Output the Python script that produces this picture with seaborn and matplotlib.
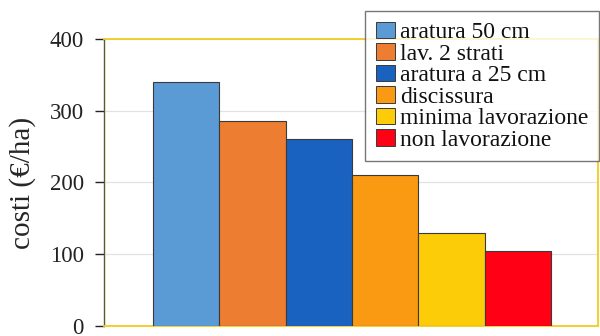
import matplotlib
matplotlib.use("Agg")
import matplotlib.pyplot as plt
from matplotlib.patches import Patch
import pandas as pd
import seaborn as sns

# Costi delle diverse lavorazioni del terreno
trattamenti = ["aratura 50 cm", "lav. 2 strati", "aratura a 25 cm",
               "discissura", "minima lavorazione", "non lavorazione"]
costi = [340, 285, 260, 210, 130, 105]
colori = ["#5b9bd5", "#ed7d31", "#1a62c0", "#f99a12", "#fdcc08", "#ff0015"]
y_ticks = [0, 100, 200, 300, 400]

df = pd.DataFrame({"trattamento": trattamenti, "costo": costi})

sns.set_theme(style="white")
plt.rcParams["font.family"] = ["Liberation Serif", "DejaVu Serif"]

fig = plt.figure(figsize=(6.0, 3.36), dpi=100)
ax = fig.add_axes([0.1733, 0.0298, 0.8234, 0.8542])

sns.barplot(data=df, x="trattamento", y="costo", hue="trattamento",
            palette=colori, saturation=1, width=1.0, edgecolor="#3a3a3a",
            linewidth=0.8, legend=False, ax=ax, zorder=3)

ax.set_xlim(-1.24, 6.21)
ax.set_ylim(0, 400)
ax.set_yticks(y_ticks)
ax.set_yticklabels([str(v) for v in y_ticks], fontsize=16.5)
ax.set_xticks([])
ax.set_xlabel("")
ax.set_ylabel("costi (€/ha)", fontsize=21, labelpad=10)

ax.grid(axis="y", color="#e2e2e2", linewidth=0.9, zorder=0)
ax.tick_params(axis="y", direction="out", length=6.5, width=1.0,
               color="#222222", pad=8, left=True, labelcolor="#222222")

for side in ("top", "bottom", "right"):
    ax.spines[side].set_color("#f2cc1e")
    ax.spines[side].set_linewidth(1.3)
ax.spines["left"].set_color("#5a5a2a")
ax.spines["left"].set_linewidth(1.0)

handles = [Patch(facecolor=c, edgecolor="#3a3a3a", linewidth=0.7)
           for c in colori]
leg = fig.legend(handles, trattamenti, loc="upper left",
                 bbox_to_anchor=(365 / 600, 1 - 11 / 336),
                 fontsize=17, frameon=True, fancybox=False,
                 borderpad=0.45, labelspacing=0.0, handlelength=0.8,
                 handleheight=0.7, handletextpad=0.25, borderaxespad=0)
leg.get_frame().set_edgecolor("#555555")
leg.get_frame().set_linewidth(1.0)
leg.get_frame().set_facecolor("white")
leg.set_zorder(10)
for t in leg.get_texts():
    t.set_color("#111111")

fig.savefig("out.png", dpi=100)
